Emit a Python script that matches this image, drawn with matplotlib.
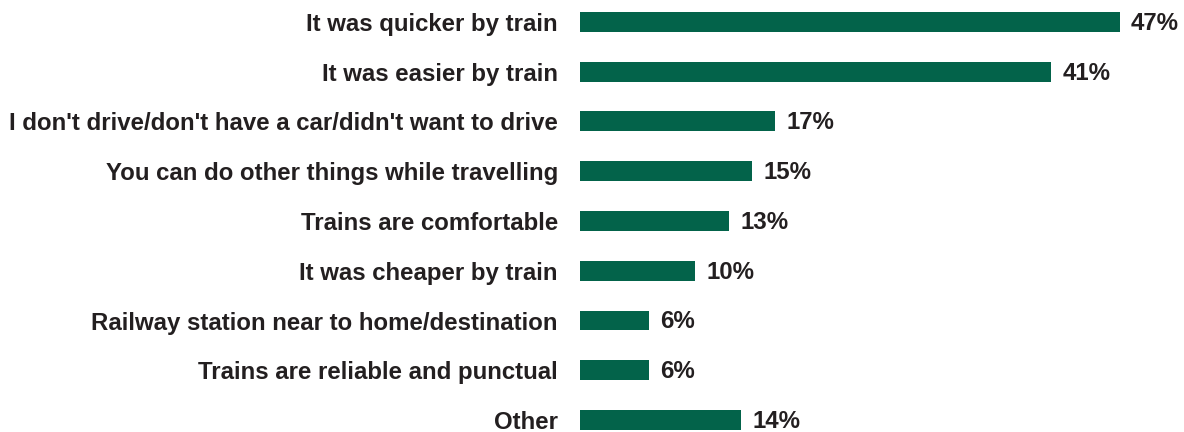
import matplotlib.pyplot as plt

plt.rcParams["font.family"] = ["Liberation Sans", "DejaVu Sans"]

reasons = [
    "It was quicker by train",
    "It was easier by train",
    "I don't drive/don't have a car/didn't want to drive",
    "You can do other things while travelling",
    "Trains are comfortable",
    "It was cheaper by train",
    "Railway station near to home/destination",
    "Trains are reliable and punctual",
    "Other",
]
shares = [47, 41, 17, 15, 13, 10, 6, 6, 14]

BAR_COLOR = "#03634a"
TEXT_COLOR = "#231f20"

fig = plt.figure(figsize=(11.84, 4.32), dpi=100)
ax = fig.add_axes([0.49, 0.0, 0.485, 1.0])

ypos = range(len(reasons))
ax.barh(ypos, shares, height=0.4, color=BAR_COLOR)

# value labels just past the end of each bar
for y, v in zip(ypos, shares):
    ax.annotate(f"{v}%", xy=(v, y), xytext=(8, -1), textcoords="offset points",
                va="center", ha="left", fontsize=17.3, fontweight="bold",
                color=TEXT_COLOR)

ax.set_yticks(list(ypos))
ax.set_yticklabels(reasons, fontsize=17.3, fontweight="bold", color=TEXT_COLOR)
ax.tick_params(axis="y", length=0, pad=16)
ax.set_xticks([])
ax.set_xlim(0, 50)
ax.set_ylim(8.24, -0.44)
for side in ax.spines.values():
    side.set_visible(False)

fig.savefig("out.png", dpi=100)
